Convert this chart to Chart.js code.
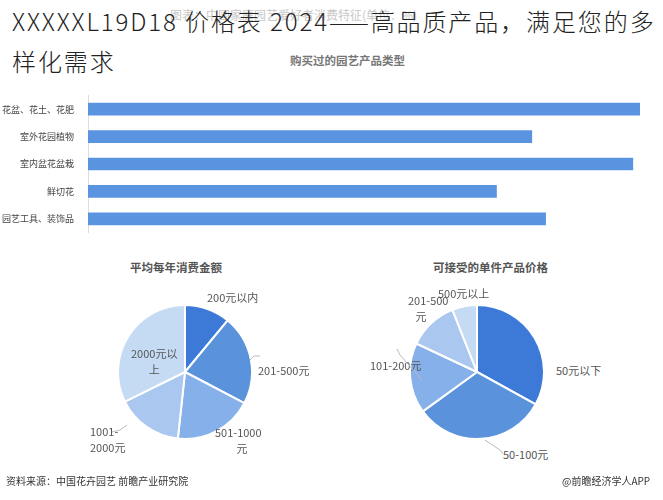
<!DOCTYPE html><html><head><meta charset="utf-8">
<script src="https://cdn.jsdelivr.net/npm/chart.js@4/dist/chart.umd.min.js"></script>
<style>
body{margin:0;width:663px;height:500px;background:#fff;position:relative;overflow:hidden;font-family:"Noto Sans CJK SC","Noto Sans",sans-serif}
.a{position:absolute;white-space:nowrap}
.t{font-size:11.5px;color:#555;font-weight:bold}
.l{font-size:11px;color:#555;line-height:16px}
canvas{position:absolute}
</style></head><body>
<div class="a" style="left:170px;top:6px;font-size:12px;color:#c8c8c8">图表：中国家庭园艺爱好者消费特征(单位：%)</div>
<div class="a" style="left:12px;top:1px;font-size:24px;color:#222;font-weight:300;line-height:40px;white-space:normal;width:655px;letter-spacing:1.9px">XXXXXL19D18 价格表 2024——高品质产品，满足您的多样化需求</div>
<div class="a" style="left:290px;top:52px;font-size:11.5px;color:#777;font-weight:bold">购买过的园艺产品类型</div>
<div style="position:absolute;left:0;top:84px;width:663px;height:160px"><canvas id="bar"></canvas></div>
<div class="a t" style="left:130px;top:259px">平均每年消费金额</div>
<div class="a t" style="left:433px;top:259px">可接受的单件产品价格</div>
<div style="position:absolute;left:117px;top:304px;width:136px;height:136px"><canvas id="p1"></canvas></div>
<div style="position:absolute;left:409px;top:304px;width:136px;height:136px"><canvas id="p2"></canvas></div>
<div class="a l" style="left:207px;top:289px">200元以内</div>
<div class="a l" style="left:258px;top:362px">201-500元</div>
<div class="a l" style="left:215px;top:424px;text-align:center">501-1000<br>&nbsp;&nbsp;&nbsp;元</div>
<div class="a l" style="left:90px;top:423px">1001-<br>2000元</div>
<div class="a l" style="left:131px;top:345px;text-align:center">2000元以<br>上</div>
<div class="a l" style="left:408px;top:292px">201-500<br>&nbsp;&nbsp;&nbsp;元</div>
<div class="a l" style="left:438px;top:285px">500元以上</div>
<div class="a l" style="left:370px;top:357px">101-200元</div>
<div class="a l" style="left:556px;top:362px">50元以下</div>
<div class="a l" style="left:503px;top:446px">50-100元</div>
<svg class="a" style="left:0;top:0" width="663" height="500"><g stroke="#bbb" fill="none">
<path d="M250 360 L254 356 L260 356"/><path d="M127 425 L120 430 L112 432"/><path d="M397 349 L400 355 L422 380"/><path d="M503 454 L500 450 L485 440"/></g></svg>
<div class="a" style="left:6px;top:473px;font-size:10px;color:#333">资料来源：中国花卉园艺 前瞻产业研究院</div>
<div class="a" style="left:562px;top:473px;font-size:10px;color:#333">@前瞻经济学人APP</div>
<script>
const barCats=["花盆、花土、花肥","室外花园植物","室内盆花盆栽","鲜切花","园艺工具、装饰品"];
const barVals=[100,80.4,98.7,74,82.9];
const p1Labels=["200元以内","201-500元","501-1000元","1001-2000元","2000元以上"];
const p1Vals=[11,21.7,19,16,32.3];
const p2Labels=["50元以下","50-100元","101-200元","201-500元","500元以上"];
const p2Vals=[33,32,17,12,6];
const blues=["#3d7ad8","#5b92dc","#86b0ea","#a9c7ef","#c5dbf4"];
Chart.defaults.animation=false;
Chart.defaults.font.family='"Noto Sans CJK SC",sans-serif';
new Chart(document.getElementById('bar'),{type:'bar',data:{labels:barCats,datasets:[{data:barVals,backgroundColor:"#5a93e0",barThickness:12}]},
options:{indexAxis:'y',responsive:true,maintainAspectRatio:false,layout:{padding:{right:23,top:0,bottom:0}},plugins:{legend:{display:false},tooltip:{enabled:false}},
scales:{x:{display:false,min:0,max:100},y:{afterFit:s=>{s.width=88},grid:{display:false},border:{color:"#ddd"},ticks:{color:"#444",padding:6,font:{size:9}}}}}});
function pie(id,labels,vals){new Chart(document.getElementById(id),{type:'pie',data:{labels,datasets:[{data:vals,backgroundColor:blues,borderColor:"#fff",borderWidth:2}]},
options:{responsive:true,maintainAspectRatio:false,plugins:{legend:{display:false},tooltip:{enabled:false}}}});}
pie('p1',p1Labels,p1Vals);pie('p2',p2Labels,p2Vals);
</script></body></html>
